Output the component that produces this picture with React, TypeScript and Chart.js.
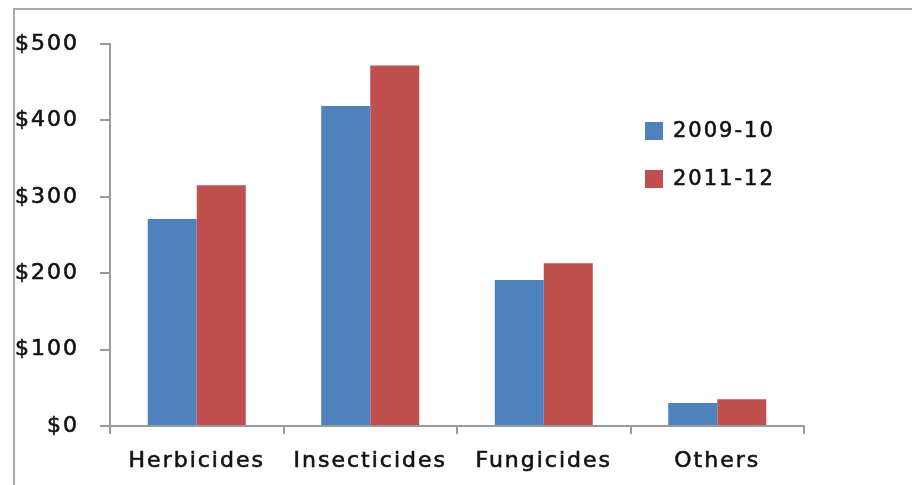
import React, { useEffect, useRef } from "react";
import { Chart, registerables } from "chart.js";

Chart.register(...registerables);

// Spending by pesticide type, two seasons
const categories = ["Herbicides", "Insecticides", "Fungicides", "Others"];
const seriesLabels = ["2009-10", "2011-12"];
const values2009 = [271, 419, 191, 30];
const values2011 = [315, 472, 213, 35];
const seriesColors = ["#4F81BD", "#C0504D"];
const yTicks = [0, 100, 200, 300, 400, 500];

const FONT = "'DejaVu Sans', Verdana, sans-serif";
const TEXT = "#111111";
const AXIS = "#9a9a9a";
const SPACING = "2px";
const SIZE = 22;
const STROKE = 0.6;

const framePlugin = {
  id: "frame",
  beforeLayout(chart: any) {
    chart.ctx.letterSpacing = SPACING;
  },
  beforeDraw(chart: any) {
    const ctx = chart.ctx;
    ctx.save();
    ctx.fillStyle = "#ffffff";
    ctx.fillRect(0, 0, chart.width, chart.height);
    ctx.strokeStyle = "#a8a8a8";
    ctx.lineWidth = 2;
    ctx.beginPath();
    ctx.moveTo(14, chart.height);
    ctx.lineTo(14, 9);
    ctx.lineTo(chart.width, 9);
    ctx.stroke();
    ctx.restore();
    ctx.letterSpacing = SPACING;
  },
  afterDraw(chart: any) {
    // Legend on the right side of the plot
    const ctx = chart.ctx;
    ctx.save();
    ctx.letterSpacing = SPACING;
    ctx.font = `${SIZE - 1}px ${FONT}`;
    ctx.textBaseline = "middle";
    ctx.textAlign = "left";
    ctx.lineWidth = STROKE;
    chart.data.datasets.forEach((ds: any, i: number) => {
      const top = 122 + i * 48;
      ctx.fillStyle = ds.backgroundColor;
      ctx.fillRect(645, top, 18, 18);
      ctx.fillStyle = TEXT;
      ctx.strokeStyle = TEXT;
      ctx.fillText(ds.label, 673, top + 10);
      ctx.strokeText(ds.label, 673, top + 10);
    });
    ctx.restore();
  },
};

export default function App() {
  const ref = useRef<HTMLCanvasElement | null>(null);

  useEffect(() => {
    if (!ref.current) return;
    const chart = new Chart(ref.current, {
      type: "bar",
      data: {
        labels: categories,
        datasets: [
          {
            label: seriesLabels[0],
            data: values2009,
            backgroundColor: seriesColors[0],
            categoryPercentage: 0.565,
            barPercentage: 1,
          },
          {
            label: seriesLabels[1],
            data: values2011,
            backgroundColor: seriesColors[1],
            categoryPercentage: 0.565,
            barPercentage: 1,
          },
        ],
      },
      options: {
        animation: false,
        responsive: false,
        layout: { padding: { top: 44, right: 108, left: 0, bottom: 0 } },
        plugins: { legend: { display: false }, tooltip: { enabled: false } },
        scales: {
          x: {
            grid: {
              offset: true,
              drawOnChartArea: false,
              drawTicks: true,
              tickLength: 8,
              color: AXIS,
              lineWidth: 2,
            },
            border: { display: true, color: AXIS, width: 2 },
            ticks: {
              color: TEXT,
              font: { family: FONT, size: SIZE },
              textStrokeColor: TEXT,
              textStrokeWidth: STROKE,
              padding: 14,
              maxRotation: 0,
            },
            afterFit(scale: any) {
              scale.height = 59;
            },
          },
          y: {
            min: 0,
            max: 500,
            afterBuildTicks(scale: any) {
              scale.ticks = yTicks.map((v) => ({ value: v }));
            },
            grid: {
              drawOnChartArea: false,
              drawTicks: true,
              tickLength: 10,
              color: AXIS,
              lineWidth: 2,
            },
            border: { display: true, color: AXIS, width: 2 },
            ticks: {
              color: TEXT,
              font: { family: FONT, size: SIZE },
              textStrokeColor: TEXT,
              textStrokeWidth: STROKE,
              padding: 21,
              callback: (v: any) => "$" + v,
            },
            afterFit(scale: any) {
              scale.width = 110;
            },
          },
        },
      },
      plugins: [framePlugin],
    });
    return () => chart.destroy();
  }, []);

  return (
    <div style={{ position: "fixed", left: 0, top: 0, width: 912, height: 485, background: "#fff" }}>
      <canvas ref={ref} width={912} height={485} style={{ width: 912, height: 485, display: "block" }} />
    </div>
  );
}
